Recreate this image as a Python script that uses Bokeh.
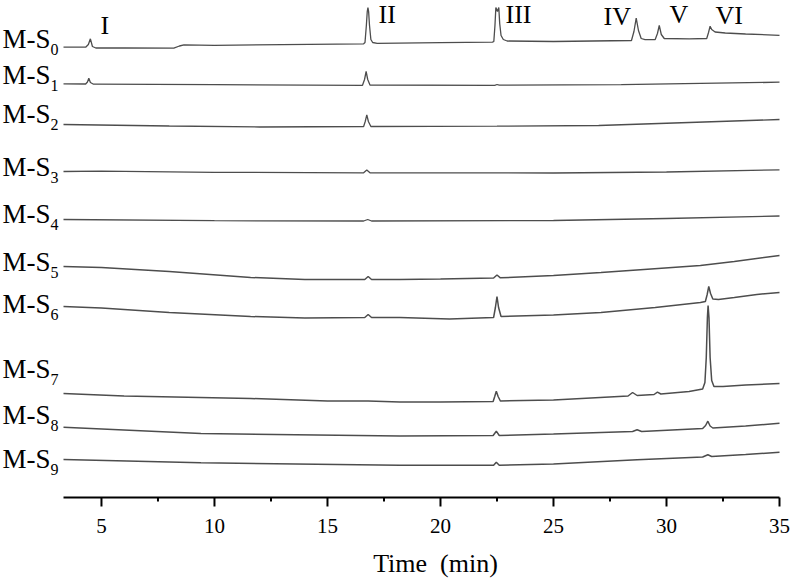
from bokeh.plotting import figure
from bokeh.models import Range1d, Label, ColumnDataSource
from bokeh.core.properties import value
from bokeh.embed import file_html
from bokeh.resources import INLINE

# ---------------- data (retention time in min, detector signal in arbitrary units) ----------------
trace_names = ["0", "1", "2", "3", "4", "5", "6", "7", "8", "9"]

t_S0 = [3.32, 4.3, 4.42, 4.51, 4.6, 4.75, 6.0, 8.2, 8.45, 8.65, 10.0, 13.0, 16.6, 16.66, 16.72, 16.76,
        16.79, 16.82, 16.86, 16.92, 17.0, 17.2, 20.0, 22.3, 22.36, 22.41, 22.45, 22.52, 22.58, 22.62,
        22.68, 22.78, 22.95, 25.0, 28.45, 28.56, 28.66, 28.76, 28.88, 29.05, 29.5, 29.6, 29.68, 29.77,
        29.9, 31.0, 31.78, 31.86, 31.93, 32.0, 32.15, 32.6, 33.5, 35.0]
s_S0 = [450.3, 450.3, 453, 458.7, 451, 449.5, 449.5, 449.3, 451.5, 452.7, 452.2, 452.8, 453.7, 455,
        472, 486, 490, 486, 472, 458, 455, 454.2, 454.8, 455.3, 456, 472, 490, 486, 490, 474,
        462, 458, 456.5, 456, 457, 466, 479.3, 467, 459, 457.8, 458, 464, 472, 463,
        459, 458.7, 459, 465, 471.3, 468, 465.5, 464.5, 463.5, 462.2]

t_S1 = [3.32, 4.3, 4.38, 4.44, 4.51, 4.65, 10.0, 16.55, 16.64, 16.71, 16.78, 16.88, 22.4, 22.5, 22.6, 28.0, 35.0]
s_S1 = [413.7, 413.5, 415.5, 419.3, 415, 413.3, 412.8, 412.2, 418, 426, 418, 412.5, 412.2, 413, 412.3, 412.8, 415.3]

t_S2 = [3.32, 8.0, 12.0, 16.6, 16.67, 16.74, 16.81, 16.92, 22.5, 27.0, 31.0, 35.0]
s_S2 = [373, 371.5, 370.5, 371, 376, 382.7, 376, 371, 371.3, 372, 375, 378]

t_S3 = [3.32, 5.0, 10.0, 16.6, 16.74, 16.88, 25.0, 30.0, 35.0]
s_S3 = [326, 326.3, 325.2, 324.7, 327.5, 324.7, 324.5, 325.5, 327.7]

t_S4 = [3.32, 10.0, 16.6, 16.78, 16.95, 25.0, 30.0, 35.0]
s_S4 = [278, 276.8, 276.5, 278, 276.5, 277, 279, 281.5]

t_S5 = [3.32, 5.0, 8.0, 11.6, 14.0, 16.65, 16.8, 16.95, 18.2, 20.0, 22.35, 22.5, 22.65, 25.0, 27.1, 29.0,
        31.5, 33.0, 35.0]
s_S5 = [231, 230, 226, 220, 218, 218, 221, 218, 218, 218.5, 219.5, 222.5, 219.7, 222, 225, 228,
        232, 236, 242]

t_S6 = [3.32, 5.0, 8.0, 11.6, 14.0, 16.65, 16.8, 16.95, 18.2, 20.4, 22.35, 22.43, 22.5, 22.57, 22.68,
        25.0, 27.1, 29.5, 31.5, 31.72, 31.8, 31.87, 31.95, 32.05, 32.3, 33.0, 34.0, 35.0]
s_S6 = [191, 189.5, 185, 181, 179.5, 180, 183, 180, 180, 178.5, 180, 190, 201, 190, 181,
        182.5, 185, 190, 195, 196, 203, 211, 204, 198.5, 198, 200, 203, 205]

t_S7 = [3.32, 6.0, 11.6, 15.0, 16.8, 18.2, 20.0, 22.33, 22.4, 22.47, 22.55, 22.65, 25.0, 28.3, 28.5,
        28.7, 29.45, 29.6, 29.75, 31.0, 31.6, 31.7, 31.76, 31.81, 31.84, 31.88, 31.93, 32.0, 32.1,
        32.5, 33.5, 35.0]
s_S7 = [104, 101.5, 99, 96.5, 96.5, 95.5, 95.5, 96, 101, 106.3, 101, 96.5, 97.5, 101.5, 105,
        102, 103, 105.3, 103.5, 106, 108.5, 115, 140, 180, 192, 180, 140, 117, 111,
        111, 112.5, 114]

t_S8 = [3.32, 9.4, 18.2, 22.33, 22.47, 22.6, 25.0, 28.5, 28.7, 28.9, 31.6, 31.73, 31.83, 31.93, 32.05, 33.5, 35.0]
s_S8 = [70.3, 64, 61.5, 62, 66.3, 62, 63.5, 66, 67.7, 66, 69, 72, 76.3, 71.5, 69.5, 71.5, 74.3]

t_S9 = [3.32, 9.4, 18.2, 22.35, 22.47, 22.6, 25.0, 28.7, 31.6, 31.83, 32.0, 33.5, 35.0]
s_S9 = [38, 34.7, 32.3, 32.2, 35.3, 32.3, 33.5, 37.7, 40.5, 42.7, 41, 43, 45.3]

traces_t = [t_S0, t_S1, t_S2, t_S3, t_S4, t_S5, t_S6, t_S7, t_S8, t_S9]
traces_s = [s_S0, s_S1, s_S2, s_S3, s_S4, s_S5, s_S6, s_S7, s_S8, s_S9]

peak_names = ["I", "II", "III", "IV", "V", "VI"]

x_ticks = [5, 10, 15, 20, 25, 30, 35]
x_tick_labels = ["5", "10", "15", "20", "25", "30", "35"]
x_minor = [7.5, 12.5, 17.5, 22.5, 27.5, 32.5]
t_start, t_end = 3.32, 35.0
x_title = "Time\u00a0 (min)"

# ---------------- layout (pixels) ----------------
W, H = 791, 583
axis_left_px, axis_right_px = 63, 779
axis_px = 497
px_per_min = (axis_right_px - axis_left_px) / (t_end - t_start)
x0 = t_start - axis_left_px / px_per_min      # frame covers the whole canvas so margin texts are not clipped
x1 = t_start + (W - axis_left_px) / px_per_min


def lx(px):
    return x0 + px / px_per_min


def ly(py):
    return axis_px - py


# vertical text centres (pixels)
name_mid_px = [38.5, 74.5, 113, 166.5, 213.5, 261.5, 303.5, 368.5, 414.5, 458.5]
sub_drop_px = 10.5
peak_left_px = [100, 378, 505, 603, 669, 715]
peak_mid_px = [25, 14, 14, 16, 14, 15]
tick_label_mid_px = 525
title_mid_px = 563

SERIF = "Liberation Serif"
p = figure(width=W, height=H, output_backend="svg", toolbar_location=None,
           x_range=Range1d(x0, x1), y_range=Range1d(ly(H), ly(0)),
           x_axis_location=None, y_axis_location=None,
           min_border_left=0, min_border_right=0, min_border_top=0, min_border_bottom=0)
p.outline_line_color = None
p.xgrid.visible = False
p.ygrid.visible = False
p.background_fill_color = "white"
p.border_fill_color = "white"

trace_color = "#4d4d4d"
for i, (tt, ss) in enumerate(zip(traces_t, traces_s)):
    src = ColumnDataSource(dict(t=tt, s=ss))
    lw = 1.5 if i >= 5 else 1.3
    p.line("t", "s", source=src, line_color=trace_color, line_width=lw)

# time axis: line, ticks, tick labels, title
major_len, minor_len = 9, 4
p.line([t_start, t_end], [0, 0], line_color="black", line_width=2)
p.segment(x0=x_ticks, y0=[0] * len(x_ticks), x1=x_ticks, y1=[-major_len] * len(x_ticks),
          line_color="black", line_width=2)
p.segment(x0=x_minor, y0=[0] * len(x_minor), x1=x_minor, y1=[-minor_len] * len(x_minor),
          line_color="black", line_width=2)
tick_src = ColumnDataSource(dict(x=x_ticks, y=[ly(tick_label_mid_px)] * len(x_ticks), text=x_tick_labels))
p.text("x", "y", "text", source=tick_src, text_font=value(SERIF), text_font_size="21px",
       text_color="black", text_align="center", text_baseline="middle")
p.add_layout(Label(x=lx(435), y=ly(title_mid_px), text=x_title, text_font=SERIF, text_font_size="26px",
                   text_color="black", text_align="center", text_baseline="middle"))

for name, ym in zip(trace_names, name_mid_px):
    p.add_layout(Label(x=lx(2), y=ly(ym), text="M-S", text_font=SERIF, text_font_size="27px",
                       text_color="black", text_align="left", text_baseline="middle"))
    p.add_layout(Label(x=lx(50), y=ly(ym + sub_drop_px), text=name, text_font=SERIF, text_font_size="16px",
                       text_color="black", text_align="left", text_baseline="middle"))

for name, px, ym in zip(peak_names, peak_left_px, peak_mid_px):
    p.add_layout(Label(x=lx(px), y=ly(ym), text=name, text_font=SERIF, text_font_size="26px",
                       text_color="black", text_align="left", text_baseline="middle"))

open("out.html", "w").write(file_html(p, INLINE))
